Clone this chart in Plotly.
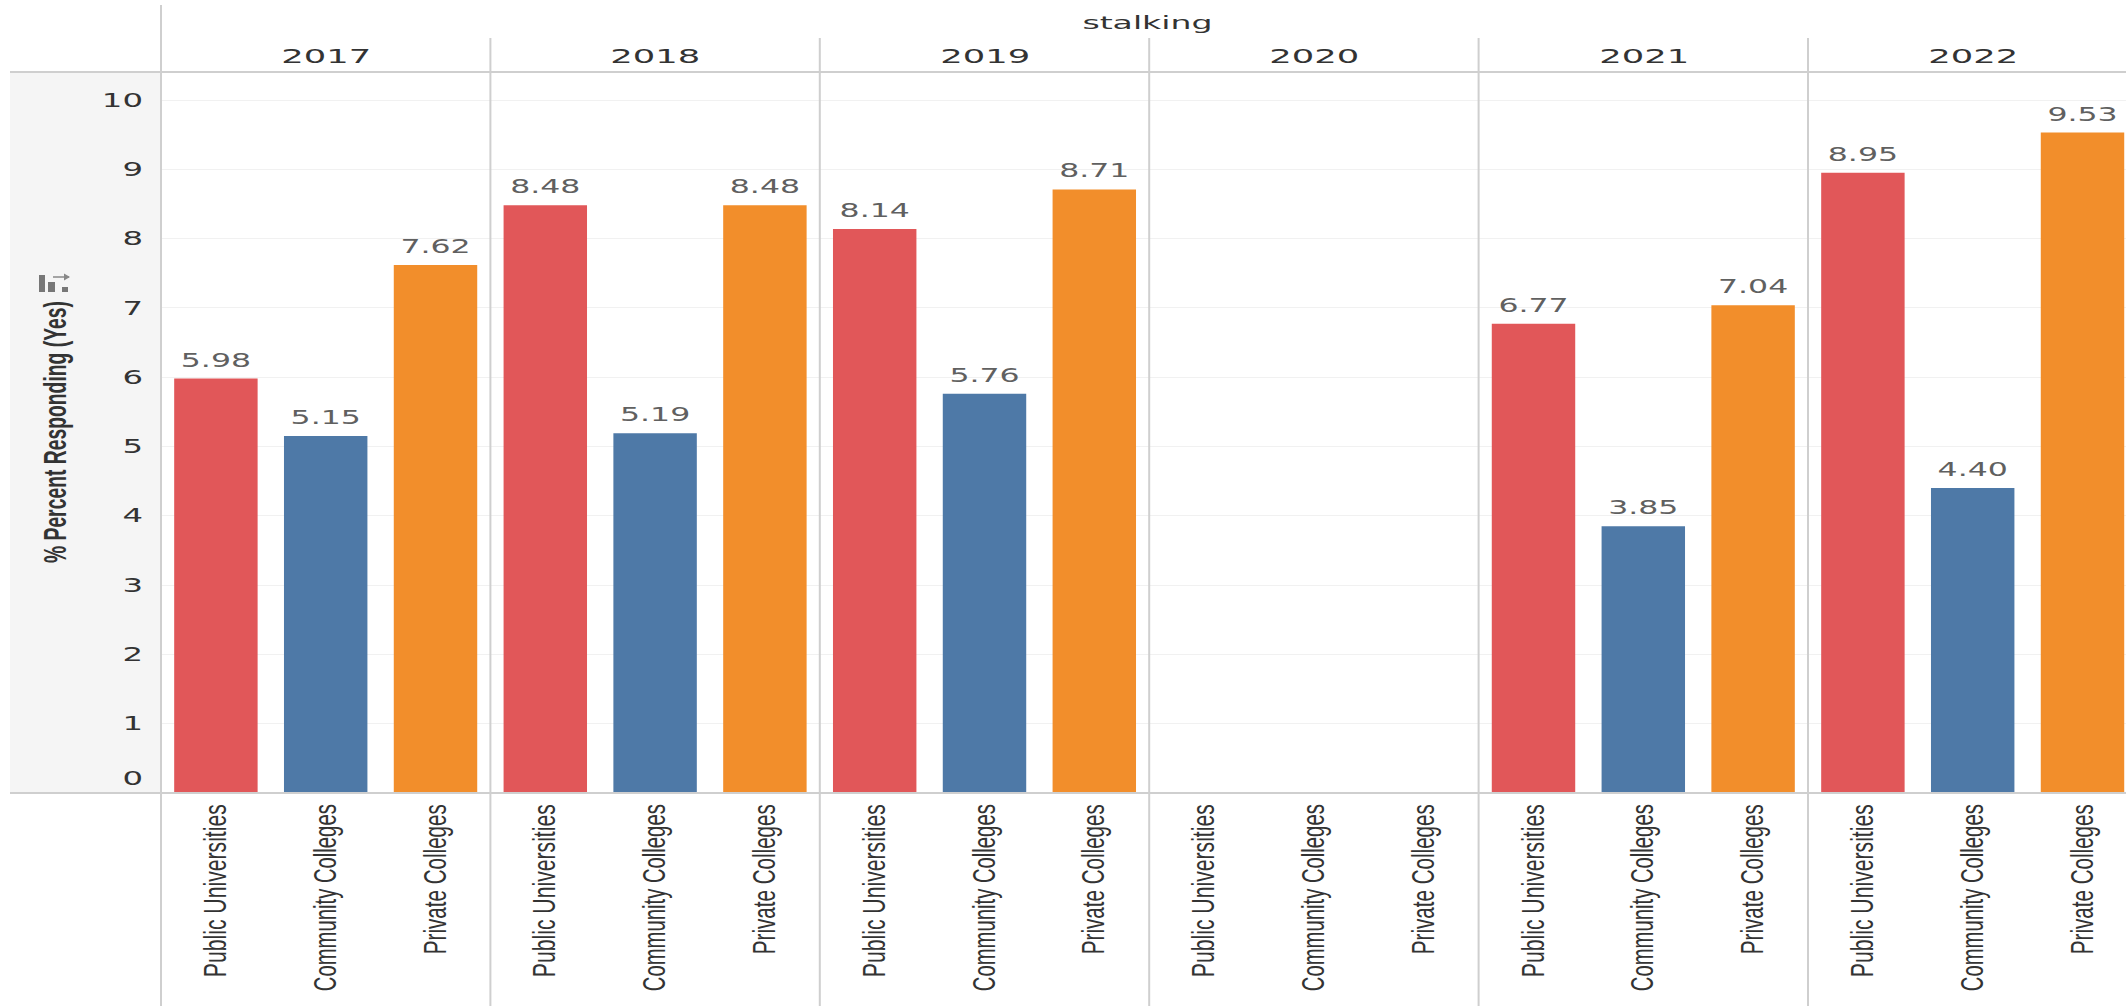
import plotly.graph_objects as go

W, H = 2126, 1006
years = ["2017", "2018", "2019", "2020", "2021", "2022"]
categories = ["Public Universities", "Community Colleges", "Private Colleges"]
public_universities = [5.98, 8.48, 8.14, None, 6.77, 8.95]
community_colleges = [5.15, 5.19, 5.76, None, 3.85, 4.40]
private_colleges = [7.62, 8.48, 8.71, None, 7.04, 9.53]
colors = ["#E15759", "#4E79A7", "#F28E2B"]
y_ticks = [0, 1, 2, 3, 4, 5, 6, 7, 8, 9, 10]

LEFT, PANEL = 161.0, 329.4
TOP, BOTTOM = 72.0, 793.0
LINE = "#cfcfcf"

def px(x):
    return x / W

def py(y):
    return 1 - y / H

fig = go.Figure()
layout = {}
for i, year in enumerate(years):
    s = "" if i == 0 else str(i + 1)
    vals = [public_universities[i], community_colleges[i], private_colleges[i]]
    fig.add_trace(go.Bar(
        x=[0, 1, 2], y=vals, xaxis="x" + s, yaxis="y" + s,
        width=0.76, marker=dict(color=colors, line=dict(width=0)),
        text=[None if v is None else f"{v:.2f}" for v in vals],
        textposition="outside", cliponaxis=False,
        textfont=dict(family="DejaVu Sans", size=19, color="#606060"),
        showlegend=False, hoverinfo="skip",
    ))
    x0 = LEFT + PANEL * i
    x1 = min(x0 + PANEL, W)
    right = -0.5 + 3 * (x1 - x0) / PANEL
    layout["xaxis" + s] = dict(
        domain=[px(x0), px(x1)], range=[-0.5, right], tickmode="array",
        tickvals=[0, 1, 2], ticktext=categories, tickangle=-90, ticklen=0,
        ticklabelstandoff=4, showgrid=False, zeroline=False, showline=False,
        anchor="y" + s, tickfont=dict(family="Liberation Sans", size=31, color="#333333"),
    )
    layout["yaxis" + s] = dict(
        domain=[py(BOTTOM), py(TOP)], range=[0, (BOTTOM - TOP) / 69.3],
        tickmode="array", tickvals=y_ticks, showgrid=True, gridcolor="#f1f1f1", gridwidth=1,
        zeroline=False, showline=False, ticklen=0, anchor="x" + s,
        showticklabels=i == 0, ticklabelstandoff=17,
        tickfont=dict(family="DejaVu Sans", size=19, color="#333333"),
    )

shapes = [
    dict(type="rect", xref="paper", yref="paper", x0=px(10), x1=px(LEFT), y0=py(BOTTOM), y1=py(TOP),
         fillcolor="#f5f5f5", line=dict(width=0), layer="below"),
    dict(type="line", xref="paper", yref="paper", x0=px(10), x1=1, y0=py(TOP), y1=py(TOP),
         line=dict(color=LINE, width=2)),
    dict(type="line", xref="paper", yref="paper", x0=px(10), x1=1, y0=py(BOTTOM), y1=py(BOTTOM),
         line=dict(color=LINE, width=2)),
    dict(type="line", xref="paper", yref="paper", x0=px(LEFT), x1=px(LEFT), y0=py(5), y1=0,
         line=dict(color=LINE, width=2)),
]
for i in range(1, 6):
    xp = LEFT + PANEL * i
    shapes.append(dict(type="line", xref="paper", yref="paper", x0=px(xp), x1=px(xp), y0=py(38), y1=0,
                       line=dict(color=LINE, width=2)))
# sort icon beside the axis title
for a, b, c in [(39, 45, 275), (48, 55, 282), (62, 68, 287)]:
    shapes.append(dict(type="rect", xref="paper", yref="paper", x0=px(a), x1=px(b), y0=py(292), y1=py(c),
                       fillcolor="#777777", line=dict(width=0)))
shapes.append(dict(type="line", xref="paper", yref="paper", x0=px(53), x1=px(69), y0=py(277), y1=py(277),
                   line=dict(color="#888888", width=1.5)))
shapes.append(dict(type="path", xref="paper", yref="paper",
                   path=f"M {px(70)} {py(277)} L {px(64)} {py(273.5)} L {px(64)} {py(280.5)} Z",
                   fillcolor="#888888", line=dict(width=0)))

annotations = [
    dict(text="stalking", x=px(1147), y=py(23), font=dict(family="DejaVu Sans", size=17, color="#333333")),
    dict(text="% Percent Responding (Yes)", x=px(55), y=py(432), textangle=-90,
         font=dict(family="Liberation Sans", size=32, color="#333333", weight="bold")),
]
for i, year in enumerate(years):
    annotations.append(dict(text=year, x=px(LEFT + PANEL * i + 165), y=py(56),
                            font=dict(family="DejaVu Sans", size=19, color="#333333")))
for a in annotations:
    a.update(xref="paper", yref="paper", showarrow=False, xanchor="center", yanchor="middle")

fig.update_layout(
    autosize=False,
    width=W, height=H, margin=dict(l=0, r=0, t=0, b=0, autoexpand=False), paper_bgcolor="white",
    plot_bgcolor="rgba(0,0,0,0)",
    bargap=0.24, shapes=shapes, annotations=annotations, **layout,
)

post = """
document.documentElement.style.overflow='hidden';
document.body.style.margin='0';
function stretch(sel, f){
  document.querySelectorAll(sel).forEach(function(t){
    var n=t.getComputedTextLength();
    if(n>0){t.setAttribute('textLength', n*f);t.setAttribute('lengthAdjust','spacingAndGlyphs');}
  });
}
setTimeout(function(){
  stretch('.bartext', 1.66);
  document.querySelectorAll('.bartext').forEach(function(t){t.setAttribute('dy','-5');});
  stretch('.ytick text', 1.7);
  stretch('.annotation-text', 1.86);
  document.querySelectorAll('.annotation-text').forEach(function(t){
    if(t.textContent.indexOf('Percent')>=0){
      t.setAttribute('textLength', 262);t.setAttribute('lengthAdjust','spacingAndGlyphs');
    }
    if(t.textContent==='stalking'){t.setAttribute('textLength', 130);}
  });
  document.querySelectorAll('.xtick text, .x2tick text, .x3tick text, .x4tick text, .x5tick text, .x6tick text').forEach(function(t){
    var c=t.textContent, L=c[1]==='u'?173:(c[0]==='C'?187:150);
    t.setAttribute('textLength', L);t.setAttribute('lengthAdjust','spacingAndGlyphs');
  });
  document.querySelectorAll('.ytick text').forEach(function(t){
    if(t.textContent==='0'){t.setAttribute('dy','-15');}
  });
}, 200);
"""
fig.write_html("out.html", post_script=post, config={"responsive": False, "displayModeBar": False})
